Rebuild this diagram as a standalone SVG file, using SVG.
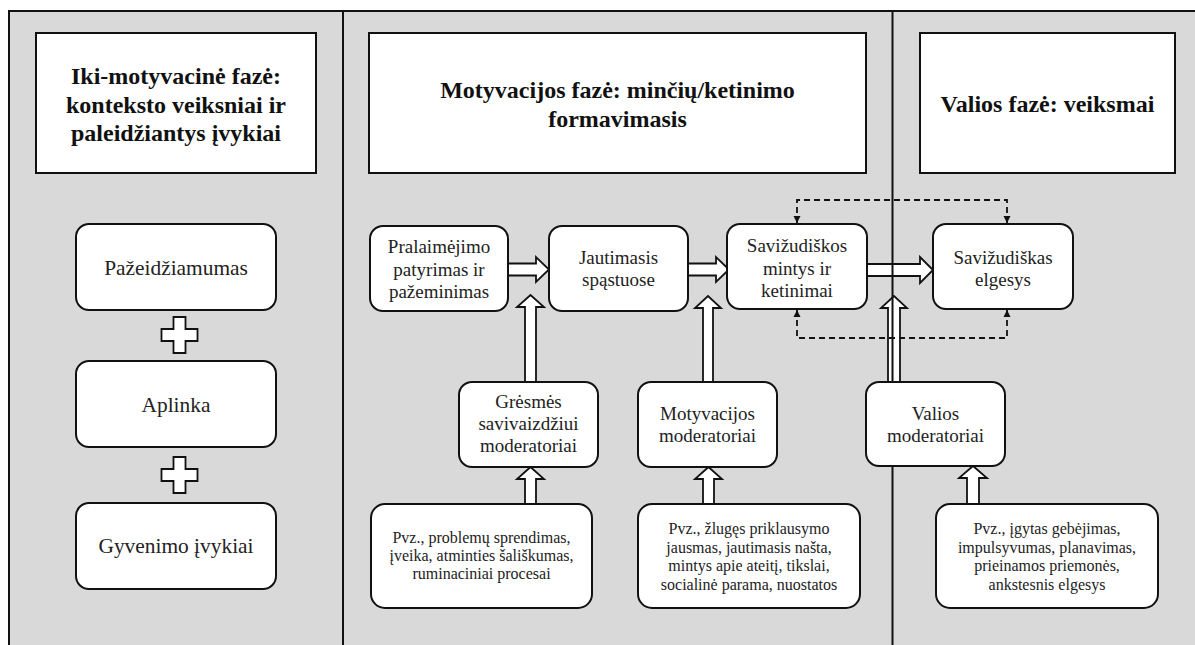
<svg xmlns="http://www.w3.org/2000/svg" width="1195" height="645" viewBox="0 0 1195 645">
<defs>
<style>
.bg{fill:#d9d9d9;stroke:none}
.frame{stroke:#111;stroke-width:2;fill:none}
.hdr{fill:#fff;stroke:#111;stroke-width:2}
.node{fill:#fff;stroke:#111;stroke-width:2}
.blk{fill:#fff;stroke:#111;stroke-width:1.8;stroke-linejoin:miter}
.dash{fill:none;stroke:#111;stroke-width:1.8;stroke-dasharray:6 4}
text{font-family:"Liberation Serif","Times New Roman",serif;fill:#222;text-anchor:middle}
.ht{font-weight:bold;font-size:24px;fill:#111}
.lt{font-size:21.4px}
.mt{font-size:19px}
.st{font-size:16px}
</style>
<marker id="ah" viewBox="0 0 10 10" refX="10" refY="5" markerWidth="4" markerHeight="4" orient="auto-start-reverse">
<path d="M0,0 L10,5 L0,10 z" fill="#111"/>
</marker>
</defs>

<rect class="bg" x="9" y="11" width="1186" height="634"/>
<path class="frame" d="M9,645 V11 H1195"/>

<g id="connectors">
<polygon class="blk" points="508,263.5 536,263.5 536,257 549,269.5 536,282 536,275.5 508,275.5"/>
<polygon class="blk" points="688,263.5 716,263.5 716,257 729,269.5 716,282 716,275.5 688,275.5"/>
<polygon class="blk" points="867,264 920,264 920,257 933,270 920,283 920,276 867,276"/>
<polygon class="blk" points="525,382 525,307 517,307 530.5,295 544,307 536,307 536,382"/>
<polygon class="blk" points="703,382 703,308 695,308 708,296 721,308 713,308 713,382"/>
<polygon class="blk" points="888,382 888,308 881,308 894,296 907,308 900,308 900,382"/>
<polygon class="blk" points="525,504 525,479 517,479 530.5,467 544,479 536,479 536,504"/>
<polygon class="blk" points="703,504 703,479 695,479 708.5,467 722,479 714,479 714,504"/>
<polygon class="blk" points="967,504 967,478 959,478 973,466 987,478 979,478 979,504"/>
<path class="dash" d="M797,223 V200 H1007 V223" marker-start="url(#ah)" marker-end="url(#ah)"/>
<path class="dash" d="M797,310 V338 H1007 V310" marker-start="url(#ah)" marker-end="url(#ah)"/>
</g>

<g id="dividers">
<line class="frame" x1="343" y1="11" x2="343" y2="645"/>
<line class="frame" x1="892.5" y1="11" x2="892.5" y2="645"/>
</g>

<g id="header-pre">
<rect class="hdr" x="36" y="33" width="280" height="140"/>
<text class="ht" x="176" y="84">Iki-motyvacinė fazė:</text>
<text class="ht" x="176" y="112.5">konteksto veiksniai ir</text>
<text class="ht" x="176" y="141">paleidžiantys įvykiai</text>
</g>
<g id="header-motivation">
<rect class="hdr" x="369" y="33" width="497" height="140"/>
<text class="ht" x="617.5" y="98">Motyvacijos fazė: minčių/ketinimo</text>
<text class="ht" x="617.5" y="127">formavimasis</text>
</g>
<g id="header-volition">
<rect class="hdr" x="920" y="33" width="255" height="140"/>
<text class="ht" x="1047.5" y="111.5">Valios fazė: veiksmai</text>
</g>

<g id="vulnerability">
<rect class="node" x="76" y="224" width="200" height="86" rx="13"/>
<text class="lt" x="176" y="274.5">Pažeidžiamumas</text>
</g>
<g id="plus1">
<polygon class="blk" points="173.5,317 185.5,317 185.5,329 197.5,329 197.5,341 185.5,341 185.5,353 173.5,353 173.5,341 161.5,341 161.5,329 173.5,329"/>
</g>
<g id="environment">
<rect class="node" x="76" y="361" width="200" height="86" rx="13"/>
<text class="lt" x="176" y="411.5">Aplinka</text>
</g>
<g id="plus2">
<polygon class="blk" points="173.5,457 185.5,457 185.5,469 197.5,469 197.5,481 185.5,481 185.5,493 173.5,493 173.5,481 161.5,481 161.5,469 173.5,469"/>
</g>
<g id="life-events">
<rect class="node" x="76" y="503" width="200" height="86" rx="13"/>
<text class="lt" x="176" y="553">Gyvenimo įvykiai</text>
</g>

<g id="defeat">
<rect class="node" x="370" y="226" width="138" height="85" rx="13"/>
<text class="mt" x="439" y="253">Pralaimėjimo</text>
<text class="mt" x="439" y="275.5">patyrimas ir</text>
<text class="mt" x="439" y="298">pažeminimas</text>
</g>
<g id="entrapment">
<rect class="node" x="549" y="226" width="139" height="85" rx="13"/>
<text class="mt" x="618.5" y="263.5">Jautimasis</text>
<text class="mt" x="618.5" y="286">spąstuose</text>
</g>
<g id="ideation">
<rect class="node" x="727" y="224" width="140" height="85" rx="13"/>
<text class="mt" x="797" y="252">Savižudiškos</text>
<text class="mt" x="797" y="274.5">mintys ir</text>
<text class="mt" x="797" y="297">ketinimai</text>
</g>
<g id="behaviour">
<rect class="node" x="933" y="224" width="140" height="85" rx="13"/>
<text class="mt" x="1003" y="263.5">Savižudiškas</text>
<text class="mt" x="1003" y="286">elgesys</text>
</g>

<g id="threat-moderators">
<rect class="node" x="459" y="382" width="139" height="85" rx="13"/>
<text class="mt" x="528.5" y="408">Grėsmės</text>
<text class="mt" x="528.5" y="430">savivaizdžiui</text>
<text class="mt" x="528.5" y="452">moderatoriai</text>
</g>
<g id="motivation-moderators">
<rect class="node" x="638" y="382" width="139" height="85" rx="13"/>
<text class="mt" x="707.5" y="420">Motyvacijos</text>
<text class="mt" x="707.5" y="442">moderatoriai</text>
</g>
<g id="volition-moderators">
<rect class="node" x="866" y="382" width="139" height="84" rx="13"/>
<text class="mt" x="935.5" y="419.5">Valios</text>
<text class="mt" x="935.5" y="442">moderatoriai</text>
</g>

<g id="threat-examples">
<rect class="node" x="371" y="504" width="221" height="104" rx="14"/>
<text class="st" x="481.5" y="543">Pvz., problemų sprendimas,</text>
<text class="st" x="481.5" y="561">įveika, atminties šališkumas,</text>
<text class="st" x="481.5" y="579">ruminaciniai procesai</text>
</g>
<g id="motivation-examples">
<rect class="node" x="638" y="504" width="222" height="104" rx="14"/>
<text class="st" x="749" y="533.5">Pvz., žlugęs priklausymo</text>
<text class="st" x="749" y="552.5">jausmas, jautimasis našta,</text>
<text class="st" x="749" y="571">mintys apie ateitį, tikslai,</text>
<text class="st" x="749" y="590">socialinė parama, nuostatos</text>
</g>
<g id="volition-examples">
<rect class="node" x="936" y="504" width="222" height="104" rx="14"/>
<text class="st" x="1047" y="533.5">Pvz., įgytas gebėjimas,</text>
<text class="st" x="1047" y="552.5">impulsyvumas, planavimas,</text>
<text class="st" x="1047" y="571">prieinamos priemonės,</text>
<text class="st" x="1047" y="590">ankstesnis elgesys</text>
</g>
</svg>
